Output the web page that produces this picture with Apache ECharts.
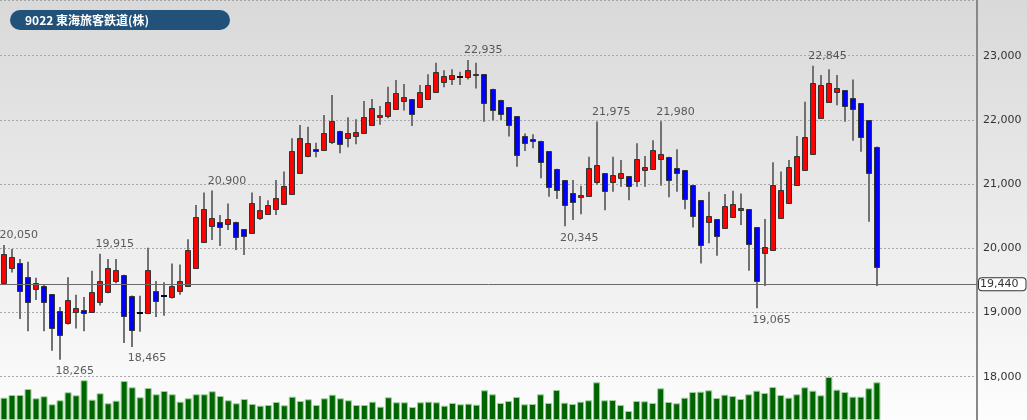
<!DOCTYPE html>
<html>
<head>
<meta charset="utf-8">
<script src="https://cdn.jsdelivr.net/npm/echarts@6/dist/echarts.min.js"></script>
<style>
html,body{margin:0;padding:0;}
#chart{width:1027px;height:420px;}
</style>
</head>
<body>
<div id="chart"></div>
<script>
// ---- data ----
const titleText = '9022 東海旅客鉄道(株)';
const lastPrice = 19440;
const opens  = [19455,19690,19775,19555,19360,19410,19285,19025,18840,19015,19040,19015,19165,19325,19495,19590,19260,18990,18990,19330,19250,19245,19340,19415,19700,20100,20350,20410,20375,20415,20295,20245,20475,20535,20610,20695,20840,21170,21440,21545,21530,21660,21830,21725,21755,21790,21920,22045,22060,22175,22290,22325,22205,22320,22430,22590,22630,22665,22665,22720,22710,22485,22315,22200,22060,21755,21705,21675,21515,21240,21065,20865,20795,20815,21030,21170,21035,21090,21125,21055,21225,21240,21385,21425,21245,21215,20990,20750,20405,20450,20320,20490,20590,20610,20330,19920,19975,20475,20700,20985,21220,21470,22025,22285,22430,22465,22345,22260,22000,21585];
const closes = [19910,19860,19335,19170,19460,19160,18755,18655,19200,19065,18990,19320,19485,19690,19665,18940,18725,18990,19655,19180,19250,19415,19490,19975,20490,20610,20465,20335,20450,20170,20195,20700,20595,20680,20780,20975,21515,21715,21635,21520,21800,21990,21620,21790,21815,22050,22180,22075,22280,22415,22360,22090,22430,22545,22740,22680,22695,22665,22775,22700,22270,22150,22085,21920,21455,21645,21665,21350,20960,20910,20675,20715,20825,21245,21300,20895,21140,21170,20975,21390,21265,21530,21465,21065,21180,20765,20505,20050,20500,20190,20660,20690,20630,20065,19495,20025,20985,20910,21270,21440,21730,22580,22550,22570,22500,22220,22170,21740,21175,19705];
const lows   = [19445,19625,18900,18710,19195,18710,18405,18265,18815,18750,18710,18995,19110,19300,19455,18525,18465,18700,18990,18930,18950,19220,19275,19415,19700,20100,20130,20035,20285,19975,19895,20245,20440,20520,20520,20695,20840,21170,21420,21420,21530,21625,21480,21575,21620,21790,21920,21925,22025,22175,22145,21905,22205,22320,22430,22510,22545,22545,22630,22490,21970,21990,22000,21740,21270,21515,21560,21090,20805,20770,20345,20440,20530,20815,20985,20595,20880,20960,20750,20960,20960,21240,20975,20795,20880,20610,20325,19765,20080,19885,20320,20490,20365,19650,19065,19415,19975,20475,20700,20985,21220,21470,22025,22285,22230,21970,21675,21505,20415,19415];
const highs  = [20050,19990,19835,19790,19540,19440,19285,19085,19550,19275,19240,19650,19915,19835,19835,19590,19265,19260,20010,19490,19470,19765,19750,20140,20675,20870,20900,20520,20700,20415,20295,20870,20815,20750,21065,21195,21715,21920,21895,21645,22075,22390,21830,22040,22010,22295,22325,22215,22515,22620,22560,22325,22545,22710,22890,22775,22790,22750,22935,22890,22710,22485,22315,22200,22060,21790,21775,21675,21515,21240,21065,21065,20975,21425,21975,21170,21425,21375,21125,21635,21440,21685,21980,21425,21545,21215,20990,20750,20880,20450,20845,20895,20855,20610,20330,20455,21340,21195,21375,21750,22285,22845,22700,22790,22700,22465,22630,22260,22000,21585];
const volumes = [2230,2500,2500,3100,2170,2370,1570,1970,2770,2470,3970,2030,2670,1670,1930,3900,3270,2270,3200,2570,2900,2570,1830,2170,2570,2570,2870,2400,1970,1670,2100,1600,1430,1500,1800,1470,2330,1900,2070,1500,2170,2530,2170,1970,1500,1500,1830,1330,2270,1770,1770,1300,1770,1830,1770,1430,1700,1570,1630,1530,2970,2570,1700,1900,2300,1570,1600,2570,1700,3000,1730,1600,1830,1970,3770,1970,2000,1500,900,1900,1870,1700,3170,1800,1670,2230,2800,2830,2970,2200,2530,2400,2100,2570,2930,2700,3300,2500,2230,2570,3270,2930,2470,4300,3030,2800,2330,2330,3170,3770];
const highMarks = [[0,20050],[12,19915],[26,20900],[58,22935],[74,21975],[82,21980],[101,22845]];
const lowMarks  = [[7,18265],[16,18465],[70,20345],[94,19065]];
const yTicks = [18000,19000,20000,21000,22000,23000];
const emptySlots = 12; // blank space at the right of the plot

// ---- build ----
const categories = [];
for (let i = 0; i < opens.length + emptySlots; i++) categories.push(i < opens.length ? String(i + 1) : '');
const candleData = opens.map((o, i) => [i, o, closes[i], lows[i], highs[i]]);
const fmt = v => Number(v).toLocaleString('en-US');
const FONT = '"DejaVu Sans", Verdana, sans-serif';

function renderCandle(params, api) {
  const i = api.value(0), o = api.value(1), c = api.value(2), l = api.value(3), h = api.value(4);
  const po = api.coord([i, o]), pc = api.coord([i, c]), pl = api.coord([i, l]), ph = api.coord([i, h]);
  const x = Math.round(po[0]);
  const top = Math.round(Math.min(po[1], pc[1])), bot = Math.round(Math.max(po[1], pc[1]));
  const children = [{
    type: 'rect',
    shape: { x: x - 1, y: ph[1], width: 2, height: Math.max(1, pl[1] - ph[1]) },
    style: { fill: '#727272' }
  }];
  if (c === o) {
    children.push({ type: 'rect', shape: { x: x - 3, y: top - 1, width: 6, height: 2 }, style: { fill: c > opens[Math.max(0, i - 1)] ? '#330000' : '#000033' } });
  } else {
    children.push({
      type: 'rect',
      shape: { x: x - 2.5, y: top + 0.5, width: 5, height: Math.max(1, bot - top) },
      style: { fill: c > o ? '#ff0000' : '#0000ff', stroke: '#333333', lineWidth: 1 }
    });
  }
  return { type: 'group', children };
}

const chart = echarts.init(document.getElementById('chart'), null, { renderer: 'canvas' });
chart.setOption({
  animation: false,
  backgroundColor: {
    type: 'linear', x: 0, y: 0, x2: 0, y2: 1,
    colorStops: [{ offset: 0, color: '#d9d9d9' }, { offset: 0.55, color: '#ececec' }, { offset: 1, color: '#fdfdfd' }]
  },
  graphic: [{
    type: 'group', left: 10, top: 10,
    children: [
      { type: 'rect', shape: { x: 0, y: 0, width: 220, height: 20, r: 10 }, style: { fill: '#22517a' } },
      { type: 'text', x: 15, y: 10, style: { text: titleText, fill: '#ffffff', font: 'bold 12px "Noto Sans CJK JP", sans-serif', verticalAlign: 'middle' } }
    ]
  }],
  grid: { left: -1, right: 50, top: 0, bottom: 0 },
  xAxis: {
    type: 'category', data: categories, boundaryGap: true,
    axisLine: { show: false }, axisTick: { show: false }, axisLabel: { show: false }, splitLine: { show: false }
  },
  yAxis: [{
    type: 'value', position: 'right', scale: true,
    min: 17326, max: 23868, splitNumber: 6, minInterval: 1000, maxInterval: 1000,
    axisLine: { show: true, lineStyle: { color: '#888888', width: 2 } },
    axisTick: { show: false },
    axisLabel: {
      margin: 6, color: '#333333', fontSize: 11, fontFamily: FONT,
      showMinLabel: false, showMaxLabel: false,
      formatter: v => (yTicks.indexOf(v) >= 0 ? fmt(v) : '')
    },
    splitLine: { show: true, lineStyle: { color: '#a8a8a8', width: 1, type: [2, 2] } }
  }, {
    type: 'value', min: 0, max: 42000, show: false, splitLine: { show: false }
  }],
  series: [{
    type: 'bar', yAxisIndex: 1, data: volumes, barWidth: 7, z: 1,
    itemStyle: { color: '#006400', borderColor: '#9ccf9c', borderWidth: 1 }
  }, {
    type: 'custom', data: candleData, renderItem: renderCandle, z: 3,
    encode: { x: 0, y: [1, 2, 3, 4] },
    markLine: {
      silent: true, symbol: 'none', animation: false,
      lineStyle: { color: '#6a6a6a', width: 1, type: 'solid' },
      label: {
        position: 'end', distance: 2, formatter: fmt(lastPrice), color: '#333333', fontSize: 11, fontFamily: FONT,
        backgroundColor: '#ffffff', borderColor: '#333333', borderWidth: 1, borderRadius: 3, padding: [1, 7, 0, 1]
      },
      data: [{ yAxis: lastPrice }]
    }
  }, {
    type: 'scatter', data: highMarks, symbolSize: 1, itemStyle: { color: 'rgba(0,0,0,0)' }, z: 4,
    label: { show: true, position: [-4, -9], align: 'left', verticalAlign: 'middle', color: '#333333', fontSize: 11, fontFamily: FONT, formatter: p => fmt(p.value[1]) }
  }, {
    type: 'scatter', data: lowMarks, symbolSize: 1, itemStyle: { color: 'rgba(0,0,0,0)' }, z: 4,
    label: { show: true, position: [-4, 12], align: 'left', verticalAlign: 'middle', color: '#333333', fontSize: 11, fontFamily: FONT, formatter: p => fmt(p.value[1]) }
  }]
});
</script>
</body>
</html>
